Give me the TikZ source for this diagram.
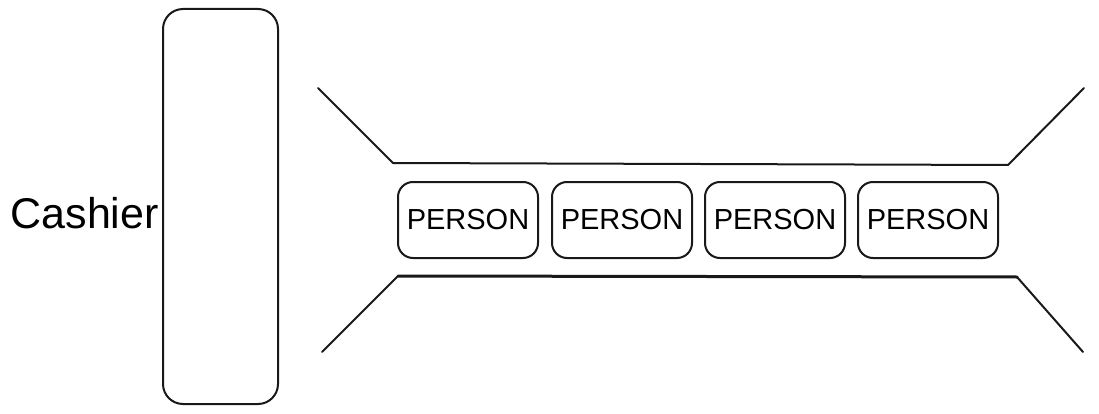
\documentclass[tikz,border=0pt]{standalone}
\usepackage{fontspec}
\setmainfont{Liberation Sans}
\begin{document}
\begin{tikzpicture}[x=1pt,y=-1pt,
  ink/.style={line width=2pt, line cap=round, line join=round, draw=black!90},
  personbox/.style={ink, rounded corners=15pt, minimum width=140pt, minimum height=76pt,
    font=\fontsize{29}{31}\selectfont, inner sep=0pt},
  counterbox/.style={ink, rounded corners=20pt, minimum width=115pt, minimum height=395pt, inner sep=0pt},
]
\useasboundingbox (0,0) rectangle (1099,414);
% cashier counter
\node[counterbox] (counter) at (220.5,206.5) {};
\node[anchor=base east, inner sep=0pt, font=\fontsize{43}{46}\selectfont] (cashier) at (159,228) {Cashier};
% people in the queue
\node[personbox] (p1) at (468,220) {PERSON};
\node[personbox] (p2) at (622,220) {PERSON};
\node[personbox] (p3) at (775,220) {PERSON};
\node[personbox] (p4) at (928,220) {PERSON};
% queue barriers
\coordinate (tlo) at (318,88);
\coordinate (tl)  at (393,163);
\coordinate (tr)  at (1008,165);
\coordinate (tro) at (1084,88);
\coordinate (blo) at (322,352);
\coordinate (bl)  at (398,276);
\coordinate (br)  at (1017,277);
\coordinate (bro) at (1083,352);
\draw[ink] (tlo) -- (tl) -- (tr) -- (tro);
\draw[ink] (blo) -- (bl);
\draw[ink, line width=3pt] (bl) -- (br);
\draw[ink] (br) -- (bro);
\end{tikzpicture}
\end{document}
